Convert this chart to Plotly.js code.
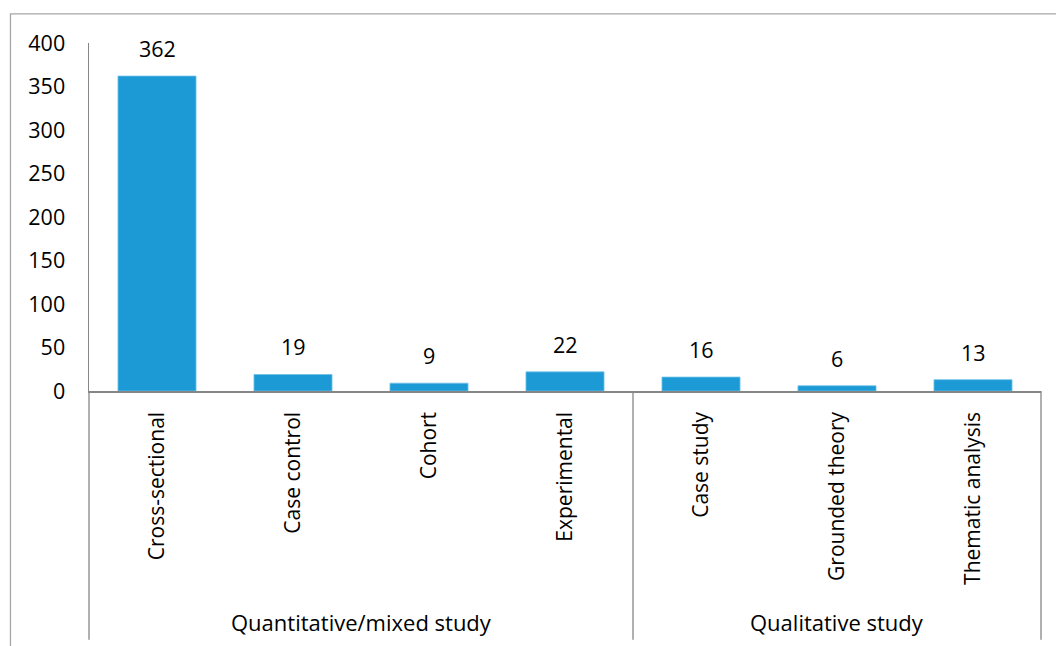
<!DOCTYPE html>
<html>
<head>
<meta charset="utf-8">
<script src="https://cdn.plot.ly/plotly-3.0.1.min.js"></script>
<style>html,body{margin:0;padding:0;background:#fff;}#chart{width:1056px;height:646px;}</style>
</head>
<body>
<div id="chart"></div>
<script>
const categories = ["Cross-sectional", "Case control", "Cohort", "Experimental", "Case study", "Grounded theory", "Thematic analysis"];
const values = [362, 19, 9, 22, 16, 6, 13];
const groups = ["Quantitative/mixed study", "Quantitative/mixed study", "Quantitative/mixed study", "Quantitative/mixed study", "Qualitative study", "Qualitative study", "Qualitative study"];
const yTicks = [0, 50, 100, 150, 200, 250, 300, 350, 400];

const FONT = "Open Sans, sans-serif";
const AXIS = "#868686";
const n = categories.length;
const idx = categories.map((_, i) => i);

const groupSpans = [];
groups.forEach((g, i) => {
  const last = groupSpans[groupSpans.length - 1];
  if (last && last.name === g) last.end = i; else groupSpans.push({name: g, start: i, end: i});
});

const annotations = values.map((v, i) => ({
  x: i, y: v, xref: "x", yref: "y", text: String(v), showarrow: false,
  yanchor: "bottom", yshift: 11, font: {family: FONT, size: 21.5, color: "#000"}
}));
groupSpans.forEach(s => {
  annotations.push({
    x: ((s.start + s.end + 1) / 2) / n, y: -0.665, xref: "paper", yref: "paper",
    text: s.name, showarrow: false, xanchor: "center", yanchor: "middle",
    font: {family: FONT, size: 22, color: "#000"}
  });
});

const shapes = [];
const bounds = [0];
groupSpans.forEach(s => bounds.push(s.end + 1));
bounds.forEach(b => {
  shapes.push({type: "line", xref: "paper", yref: "paper", x0: b / n, x1: b / n, y0: 0, y1: -0.715,
    line: {color: AXIS, width: 1.3}});
});
shapes.push({type: "rect", xref: "paper", yref: "paper", x0: -0.0825, x1: 1.2, y0: -1.2, y1: 1.0835,
  line: {color: "#A6A6A6", width: 1.3}, fillcolor: "rgba(0,0,0,0)"});

const trace = {
  type: "bar", x: idx, y: values, width: 0.574,
  marker: {color: "#1C9AD6", line: {color: "#6FC0E8", width: 0.8}},
  hoverinfo: "skip"
};

const layout = {
  width: 1056, height: 646,
  margin: {l: 89, r: 15, t: 43, b: 255},
  paper_bgcolor: "#fff", plot_bgcolor: "#fff",
  showlegend: false,
  xaxis: {
    range: [-0.5, n - 0.5], tickmode: "array", tickvals: idx, ticktext: categories,
    tickangle: -90, ticks: "", ticklabelstandoff: 11,
    showline: true, linecolor: AXIS, linewidth: 1.5, showgrid: false, zeroline: false,
    tickfont: {family: FONT, size: 21, color: "#000"}, fixedrange: true
  },
  yaxis: {
    range: [0, 400], tickmode: "array", tickvals: yTicks, ticktext: yTicks.map(String),
    ticks: "", ticklabelstandoff: 18,
    showline: true, linecolor: AXIS, linewidth: 1.5, showgrid: false, zeroline: false,
    tickfont: {family: FONT, size: 21.5, color: "#000"}, fixedrange: true
  },
  annotations: annotations,
  shapes: shapes
};

Plotly.newPlot("chart", [trace], layout, {displayModeBar: false, staticPlot: true});
</script>
</body>
</html>
